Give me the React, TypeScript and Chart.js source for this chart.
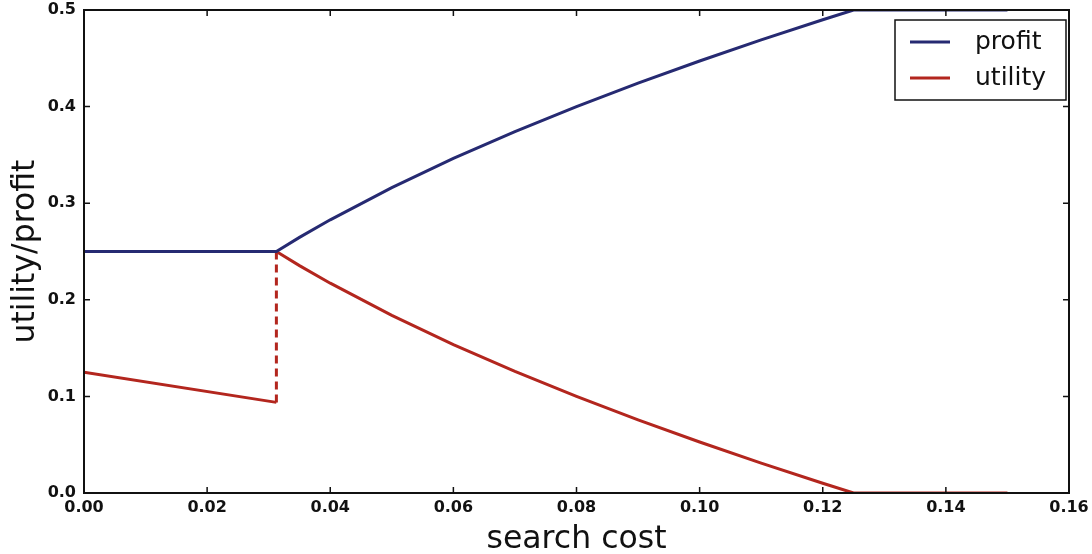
import React, { useEffect, useRef } from "react";
import { Chart, registerables } from "chart.js";

Chart.register(...registerables);

const searchCost = [0, 0.03125, 0.035, 0.04, 0.05, 0.06, 0.07, 0.08, 0.09, 0.1, 0.11, 0.12, 0.125, 0.15];
const profitValues = [0.25, 0.25, 0.2646, 0.2828, 0.3162, 0.3464, 0.3742, 0.4, 0.4243, 0.4472, 0.469, 0.4899, 0.5, 0.5];
const utilityLeftX = [0, 0.03125];
const utilityLeftValues = [0.125, 0.0938];
const utilityRightX = [0.03125, 0.035, 0.04, 0.05, 0.06, 0.07, 0.08, 0.09, 0.1, 0.11, 0.12, 0.125, 0.15];
const utilityRightValues = [0.25, 0.2354, 0.2172, 0.1838, 0.1536, 0.1258, 0.1, 0.0757, 0.0528, 0.031, 0.0101, 0, 0];
const jumpX = [0.03125, 0.03125];
const jumpValues = [0.0938, 0.25];
const xTicks = [0, 0.02, 0.04, 0.06, 0.08, 0.1, 0.12, 0.14, 0.16];
const yTicks = [0, 0.1, 0.2, 0.3, 0.4, 0.5];
const xTickLabels = ["0.00", "0.02", "0.04", "0.06", "0.08", "0.10", "0.12", "0.14", "0.16"];
const yTickLabels = ["0.0", "0.1", "0.2", "0.3", "0.4", "0.5"];
const legendLabels = ["profit", "utility"];
const xTitle = "search cost";
const yTitle = "utility/profit";

const PROFIT = "#262a72";
const UTILITY = "#b3261e";
const FONT = "'DejaVu Sans', sans-serif";

const zip = (xs: number[], ys: number[]) => xs.map((x, i) => ({ x, y: ys[i] }));

const framePlugin = {
  id: "frame",
  afterDatasetsDraw(chart: any) {
    const { ctx, chartArea: a, scales } = chart;
    ctx.save();
    ctx.strokeStyle = "#111";
    ctx.lineWidth = 2;
    ctx.strokeRect(a.left, a.top, a.right - a.left, a.bottom - a.top);
    ctx.lineWidth = 1.5;
    const t = 6;
    ctx.fillStyle = "#111";
    ctx.font = `bold 16px ${FONT}`;
    xTicks.forEach((v, i) => {
      const px = scales.x.getPixelForValue(v);
      ctx.beginPath();
      ctx.moveTo(px, a.bottom);
      ctx.lineTo(px, a.bottom - t);
      ctx.moveTo(px, a.top);
      ctx.lineTo(px, a.top + t);
      ctx.stroke();
      ctx.textAlign = "center";
      ctx.textBaseline = "middle";
      ctx.fillText(xTickLabels[i], px, a.bottom + 15);
    });
    yTicks.forEach((v, i) => {
      const py = scales.y.getPixelForValue(v);
      ctx.beginPath();
      ctx.moveTo(a.left, py);
      ctx.lineTo(a.left + t, py);
      ctx.moveTo(a.right, py);
      ctx.lineTo(a.right - t, py);
      ctx.stroke();
      ctx.textAlign = "right";
      ctx.textBaseline = "middle";
      ctx.fillText(yTickLabels[i], a.left - 8, py);
    });
    // axis titles
    ctx.font = `31.5px ${FONT}`;
    ctx.textAlign = "center";
    ctx.textBaseline = "alphabetic";
    ctx.fillText(xTitle, (a.left + a.right) / 2, 548);
    ctx.save();
    ctx.translate(34, (a.top + a.bottom) / 2);
    ctx.rotate(-Math.PI / 2);
    ctx.fillText(yTitle, 0, 0);
    ctx.restore();
    // legend
    const lx = a.right - 174;
    const ly = a.top + 10;
    const lw = 171;
    const lh = 80;
    ctx.fillStyle = "#fff";
    ctx.fillRect(lx, ly, lw, lh);
    ctx.strokeStyle = "#111";
    ctx.lineWidth = 1.5;
    ctx.strokeRect(lx, ly, lw, lh);
    const colors = [PROFIT, UTILITY];
    legendLabels.forEach((lab, i) => {
      const y = ly + 22 + i * 36;
      ctx.strokeStyle = colors[i];
      ctx.lineWidth = 3;
      ctx.beginPath();
      ctx.moveTo(lx + 15, y);
      ctx.lineTo(lx + 55, y);
      ctx.stroke();
      ctx.fillStyle = "#111";
      ctx.font = `25px ${FONT}`;
      ctx.textBaseline = "middle";
      ctx.textAlign = "left";
      ctx.fillText(lab, lx + 80, y);
    });
    ctx.restore();
  },
};

export default function App() {
  const ref = useRef<HTMLCanvasElement | null>(null);
  useEffect(() => {
    document.body.style.margin = "0";
    const canvas = ref.current!;
    const chart = new Chart(canvas, {
      type: "line",
      data: {
        datasets: [
          {
            label: "profit",
            data: zip(searchCost, profitValues),
            borderColor: PROFIT,
            borderWidth: 3,
            pointRadius: 0,
            fill: false,
            tension: 0,
          },
          {
            label: "utility",
            data: zip(utilityLeftX, utilityLeftValues),
            borderColor: UTILITY,
            borderWidth: 3,
            pointRadius: 0,
            fill: false,
          },
          {
            label: "utility2",
            data: zip(utilityRightX, utilityRightValues),
            borderColor: UTILITY,
            borderWidth: 3,
            pointRadius: 0,
            fill: false,
          },
          {
            label: "jump",
            data: zip(jumpX, jumpValues),
            borderColor: UTILITY,
            borderWidth: 3,
            borderDash: [8, 5],
            pointRadius: 0,
            fill: false,
          },
        ],
      },
      options: {
        animation: false,
        responsive: false,
        maintainAspectRatio: false,
        layout: { padding: { top: 10, right: 23, left: 0, bottom: 0 } },
        plugins: { legend: { display: false }, tooltip: { enabled: false } },
        scales: {
          x: {
            type: "linear",
            min: 0,
            max: 0.16,
            grid: { display: false, drawTicks: false },
            border: { display: false },
            ticks: { display: false },
            title: { display: false },
            afterFit: (s: any) => {
              s.height = 61;
            },
          },
          y: {
            type: "linear",
            min: 0,
            max: 0.5,
            grid: { display: false, drawTicks: false },
            border: { display: false },
            ticks: { display: false },
            title: { display: false },
            afterFit: (s: any) => {
              s.width = 84;
            },
          },
        },
      },
      plugins: [framePlugin],
    });
    return () => chart.destroy();
  }, []);
  return <canvas ref={ref} width={1092} height={554} style={{ display: "block" }} />;
}
